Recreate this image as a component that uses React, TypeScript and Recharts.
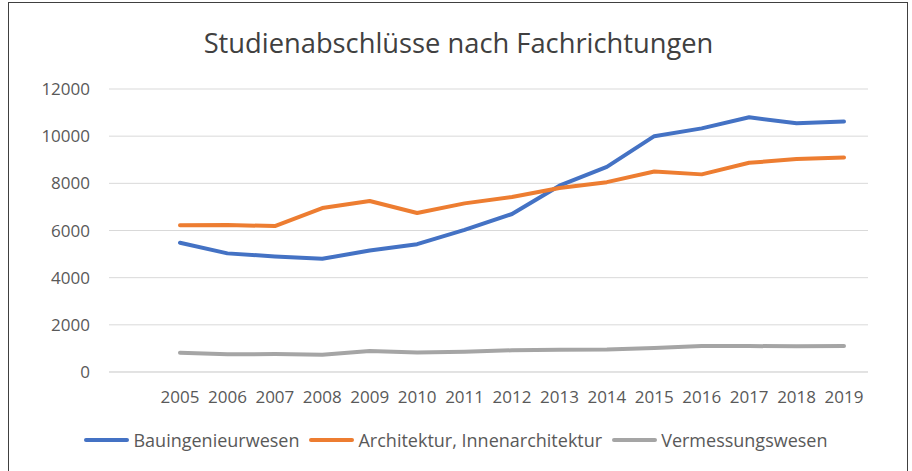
import { CartesianGrid, Legend, Line, LineChart, XAxis, YAxis } from "recharts";

const years = [
  "2005", "2006", "2007", "2008", "2009", "2010", "2011", "2012",
  "2013", "2014", "2015", "2016", "2017", "2018", "2019",
];
const bauingenieurwesen = [
  5480, 5030, 4900, 4800, 5150, 5420, 6030, 6700, 7900, 8700, 10000, 10330,
  10800, 10550, 10620,
];
const architektur = [
  6220, 6230, 6190, 6950, 7250, 6740, 7150, 7420, 7800, 8050, 8500, 8380,
  8870, 9030, 9100,
];
const vermessungswesen = [
  820, 750, 760, 730, 890, 830, 860, 920, 940, 950, 1020, 1100, 1100, 1090,
  1100,
];
const yTicks = [0, 2000, 4000, 6000, 8000, 10000, 12000];

const SERIES = [
  { key: "Bauingenieurwesen", color: "#4472C4" },
  { key: "Architektur, Innenarchitektur", color: "#ED7D31" },
  { key: "Vermessungswesen", color: "#A5A5A5" },
];

const data = years.map((year, i) => ({
  year,
  Bauingenieurwesen: bauingenieurwesen[i],
  "Architektur, Innenarchitektur": architektur[i],
  Vermessungswesen: vermessungswesen[i],
}));

const FONT = "'Open Sans', sans-serif";
const TEXT = "#595959";

function LegendRow() {
  return (
    <div
      style={{
        display: "flex",
        justifyContent: "center",
        alignItems: "center",
        gap: 10,
        fontFamily: FONT,
        fontSize: 18,
        color: TEXT,
      }}
    >
      {SERIES.map((s) => (
        <div key={s.key} style={{ display: "flex", alignItems: "center" }}>
          <span
            style={{
              display: "inline-block",
              width: 45,
              height: 4,
              borderRadius: 2,
              background: s.color,
              marginRight: 4,
            }}
          />
          <span>{s.key}</span>
        </div>
      ))}
    </div>
  );
}

export default function App() {
  return (
    <div
      style={{
        position: "fixed",
        left: 0,
        top: 0,
        width: 912,
        height: 471,
        background: "#fff",
        overflow: "hidden",
      }}
    >
      <div
        style={{
          position: "absolute",
          left: 8,
          top: 2,
          width: 898,
          height: 480,
          border: "1px solid #404040",
        }}
      />
      <div
        style={{
          position: "absolute",
          left: 0,
          top: 24,
          width: 917,
          textAlign: "center",
          fontFamily: FONT,
          fontSize: 27.3,
          color: "#404040",
          lineHeight: "38px",
        }}
      >
        Studienabschlüsse nach Fachrichtungen
      </div>
      <LineChart
        width={912}
        height={471}
        data={data}
        margin={{ top: 89, right: 44, left: 0, bottom: 69 }}
        style={{ position: "absolute", left: 0, top: 0, fontFamily: FONT }}
      >
        <CartesianGrid vertical={false} stroke="#D9D9D9" strokeWidth={1} />
        <XAxis
          dataKey="year"
          height={30}
          padding={{ left: 71, right: 24 }}
          axisLine={{ stroke: "#D9D9D9" }}
          tickLine={false}
          tickSize={0}
          tickMargin={19}
          interval={0}
          tick={{ fontSize: 17, fill: TEXT }}
        />
        <YAxis
          width={109}
          domain={[0, 12000]}
          ticks={yTicks}
          axisLine={false}
          tickLine={false}
          tickSize={0}
          tickMargin={19}
          tick={{ fontSize: 17, fill: TEXT }}
        />
        <Legend
          layout="horizontal"
          verticalAlign="middle"
          align="center"
          wrapperStyle={{ top: 428, left: 0, width: 912 }}
          content={() => <LegendRow />}
        />
        {SERIES.map((s) => (
          <Line
            key={s.key}
            type="linear"
            dataKey={s.key}
            stroke={s.color}
            strokeWidth={4}
            strokeLinecap="round"
            strokeLinejoin="round"
            dot={false}
            activeDot={false}
            isAnimationActive={false}
          />
        ))}
      </LineChart>
    </div>
  );
}
